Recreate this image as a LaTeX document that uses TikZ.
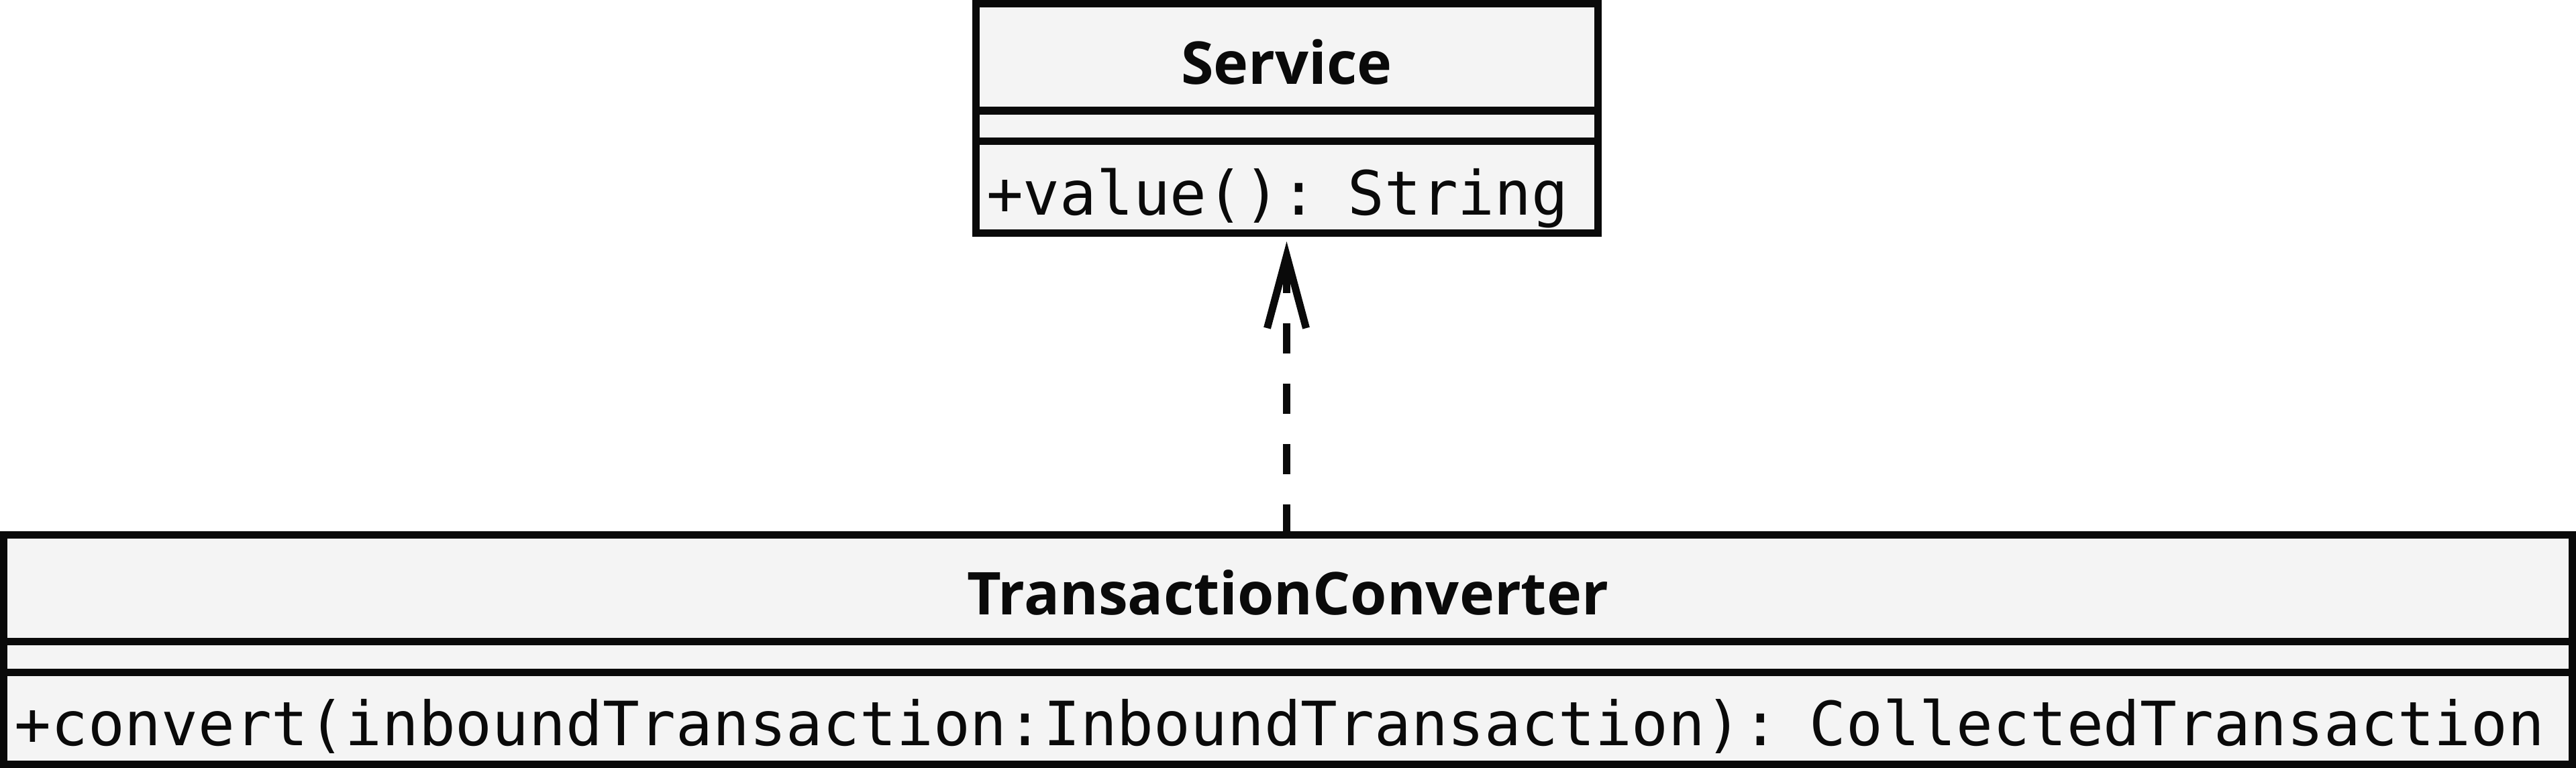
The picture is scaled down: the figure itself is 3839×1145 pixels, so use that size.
\documentclass[tikz,border=0pt]{standalone}
\usepackage{fontspec}
\setsansfont{Open Sans}
\setmonofont{DejaVu Sans Mono}
\usepackage{tikz}
\usepackage{xcolor}
\usetikzlibrary{positioning,arrows.meta}
\definecolor{umlInk}{RGB}{10,10,10}
\definecolor{umlFill}{RGB}{244,244,244}
\tikzset{
  umlPart/.style={rectangle,draw=umlInk,fill=umlFill,line width=11pt,outer sep=0pt,inner sep=0pt},
  umlHead/.style={umlPart,minimum width=#1,minimum height=159.5pt,text height=80pt,text depth=0pt,text=umlInk,font=\sffamily\bfseries\fontsize{88}{96}\selectfont},
  umlSlot/.style={umlPart,minimum width=#1,minimum height=45.5pt},
  umlOps/.style={umlPart,text width=#1,inner xsep=16pt,minimum height=137pt,text height=86pt,text depth=4pt,align=left,text=umlInk,font=\ttfamily\fontsize{91}{100}\selectfont},
  realizes/.style={draw=umlInk,line width=11pt,dash pattern=on 45pt off 45pt,-{Straight Barb[length=108pt,width=58pt,sharp]}}
}

\begin{document}
\begin{tikzpicture}[x=1pt,y=-1pt]
\useasboundingbox (0,0) rectangle (3839,1145);
% interface on top
\node[umlHead=927pt,anchor=north] (serviceHead) at (1917.5,5.5) {Service};
\node[umlSlot=927pt,below=0pt of serviceHead] (serviceAttrs) {};
\node[umlOps=895pt,below=0pt of serviceAttrs] (serviceOps) {+value(): String};
% implementing class
\node[umlHead=3827.5pt,anchor=north] (converterHead) at (1919.25,797) {TransactionConverter};
\node[umlSlot=3827.5pt,below=0pt of converterHead] (converterAttrs) {};
\node[umlOps=3795.5pt,below=0pt of converterAttrs] (converterOps) {+convert(inboundTransaction:InboundTransaction): CollectedTransaction};
\draw[realizes,shorten >=12.5pt] (converterHead.north -| serviceOps.south) -- (serviceOps.south);
\end{tikzpicture}
\end{document}
